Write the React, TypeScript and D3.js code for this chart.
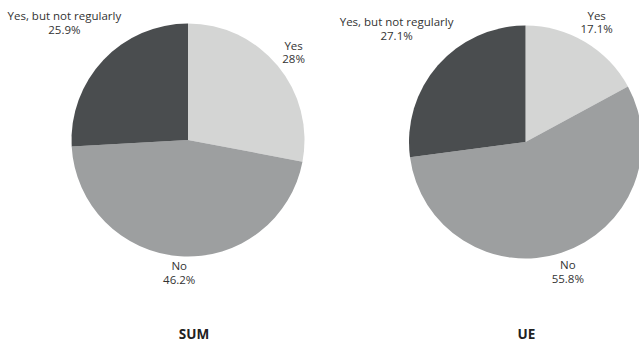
import React, { useMemo } from "react";
import * as d3 from "d3";

// Survey answers per group
const categories = ["Yes", "No", "Yes, but not regularly"];
const sumValues = [28, 46.2, 25.9];
const ueValues = [17.1, 55.8, 27.1];
const groupTitles = ["SUM", "UE"];

const WIDTH = 639;
const HEIGHT = 342;
const RADIUS = 116.5;
const LABEL_FONT = 11.5;
const LINE_GAP = 13.5;
const FONT_FAMILY = "'Open Sans', sans-serif";

const color = d3
  .scaleOrdinal<string, string>()
  .domain(categories)
  .range(["#d4d5d4", "#9d9fa0", "#4a4d4f"]);

const panels = [
  { title: groupTitles[0], values: sumValues, cx: 188, cy: 140, titleX: 194 },
  { title: groupTitles[1], values: ueValues, cx: 525.5, cy: 142, titleX: 526.5 },
];

let measureCtx: CanvasRenderingContext2D | null = null;
function textWidth(s: string): number {
  if (!measureCtx) {
    measureCtx = document.createElement("canvas").getContext("2d");
  }
  if (!measureCtx) return s.length * LABEL_FONT * 0.55;
  measureCtx.font = `${LABEL_FONT}px 'Open Sans'`;
  return measureCtx.measureText(s).width;
}

function fmt(v: number): string {
  return `${d3.format("~")(v)}%`;
}

function Pie({ values, cx, cy, title, titleX }: (typeof panels)[number]) {
  const arcs = useMemo(() => {
    const pie = d3
      .pie<number>()
      .sort(null)
      .value((d) => d);
    return pie(values);
  }, [values]);

  const arc = d3.arc<d3.PieArcDatum<number>>().innerRadius(0).outerRadius(RADIUS);

  const capH = LABEL_FONT * 0.714;
  const blockH = capH + LINE_GAP;

  return (
    <g>
      <g transform={`translate(${cx},${cy})`}>
        {arcs.map((a, i) => (
          <path key={categories[i]} d={arc(a) || ""} fill={color(categories[i])} />
        ))}
        {arcs.map((a, i) => {
          const mid = (a.startAngle + a.endAngle) / 2;
          const dx = Math.sin(mid);
          const dy = -Math.cos(mid);
          const l1 = categories[i];
          const l2 = fmt(values[i]);
          const w = Math.max(textWidth(l1), textWidth(l2));
          const support = Math.abs(dx) * (w / 2) + Math.abs(dy) * (blockH / 2);
          const dist = RADIUS + 5 + support;
          const x = dx * dist;
          const yc = dy * dist;
          const base = yc - blockH / 2 + capH;
          return (
            <text
              key={"l" + i}
              textAnchor="middle"
              fontFamily={FONT_FAMILY}
              fontSize={LABEL_FONT}
              fill="#333"
            >
              <tspan x={x} y={base}>
                {l1}
              </tspan>
              <tspan x={x} y={base + LINE_GAP}>
                {l2}
              </tspan>
            </text>
          );
        })}
      </g>
      <text
        x={titleX}
        y={339}
        textAnchor="middle"
        fontFamily={FONT_FAMILY}
        fontSize={13.5}
        fontWeight="bold"
        fill="#222"
      >
        {title}
      </text>
    </g>
  );
}

export default function App() {
  return (
    <svg
      width={WIDTH}
      height={HEIGHT}
      style={{ position: "absolute", left: 0, top: 0, background: "#fff" }}
    >
      {panels.map((p) => (
        <Pie key={p.title} {...p} />
      ))}
    </svg>
  );
}
